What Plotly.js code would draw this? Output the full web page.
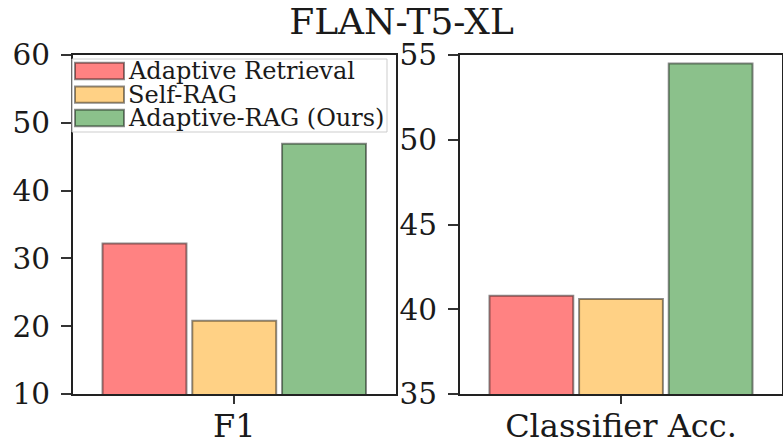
<!DOCTYPE html>
<html>
<head>
<meta charset="utf-8">
<script src="https://cdn.plot.ly/plotly-3.0.1.min.js"></script>
<style>html,body{margin:0;padding:0;background:#fff;}#chart{width:783px;height:444px;}</style>
</head>
<body>
<div id="chart"></div>
<script>
const metrics = ['F1', 'Classifier Acc.'];
const seriesNames = ['Adaptive Retrieval', 'Self-RAG', 'Adaptive-RAG (Ours)'];
const f1Values = [32.2, 20.8, 46.9];
const accValues = [40.8, 40.6, 54.5];
const f1Ticks = [10, 20, 30, 40, 50, 60];
const accTicks = [35, 40, 45, 50, 55];
const seriesColors = ['#FF8282', '#FFD185', '#8BC18B'];
const chartTitle = 'FLAN-T5-XL';

const W = 783, H = 444;
const px = v => v / W;
const py = v => 1 - v / H;
const FONT = 'DejaVu Serif';
const edge = 'rgba(0,0,0,0.45)';

const traces = [];
seriesNames.forEach((name, i) => {
  traces.push({type: 'bar', x: [metrics[0]], y: [f1Values[i]], name: name,
    xaxis: 'x', yaxis: 'y', showlegend: false,
    marker: {color: seriesColors[i], line: {color: edge, width: 2}}, hoverinfo: 'y+name'});
  traces.push({type: 'bar', x: [metrics[1]], y: [accValues[i]], name: name,
    xaxis: 'x2', yaxis: 'y2', showlegend: false,
    marker: {color: seriesColors[i], line: {color: edge, width: 2}}, hoverinfo: 'y+name'});
});

const axisCommon = {
  showline: true, linecolor: '#222', linewidth: 2, mirror: true,
  ticks: 'outside', ticklen: 10, tickwidth: 2, tickcolor: '#333',
  tickfont: {family: FONT, size: 29.5, color: '#1a1a1a'},
  showgrid: false, zeroline: false, fixedrange: true
};
const xTickFont = {family: FONT, size: 32, color: '#1a1a1a'};
const yDomain = [(H - 394) / H, (H - 55) / H];

// custom legend (patches + labels) in the left panel
const legShapes = [];
const legAnn = [];
const legCenters = [71, 94.6, 118];
legShapes.push({type: 'path', xref: 'paper', yref: 'paper',
  path: (function(){
    const x0 = px(72), x1 = px(387), y0 = py(59), y1 = py(132);
    return `M${x0},${y0} L${x1},${y0} L${x1},${y1} L${x0},${y1} Z`;
  })(),
  line: {color: 'rgba(200,200,200,0.9)', width: 1}, fillcolor: 'rgba(255,255,255,0.8)', layer: 'above'});
seriesNames.forEach((name, i) => {
  const c = legCenters[i];
  legShapes.push({type: 'rect', xref: 'paper', yref: 'paper',
    x0: px(75), x1: px(124), y0: py(c - 8.2), y1: py(c + 8.2),
    fillcolor: seriesColors[i], line: {color: edge, width: 2}, layer: 'above'});
  legAnn.push({xref: 'paper', yref: 'paper', x: px(126), y: py(c), xanchor: 'left', yanchor: 'middle',
    text: name, showarrow: false, font: {family: FONT, size: 24, color: '#1a1a1a'}});
});

const layout = {
  width: W, height: H,
  margin: {l: 0, r: 0, t: 0, b: 0, pad: 0},
  paper_bgcolor: '#fff', plot_bgcolor: '#fff',
  barmode: 'group', bargap: 0.165, bargroupgap: 0.065,
  title: {text: chartTitle, font: {family: FONT, size: 36, color: '#1a1a1a'},
    x: px(401.5), xanchor: 'center', xref: 'paper', y: 1 - 21 / H, yanchor: 'middle', yref: 'container'},
  xaxis: Object.assign({}, axisCommon, {domain: [px(73), px(395.5)], anchor: 'y', type: 'category', range: [-0.5, 0.5],
    ticklen: 8, ticklabelstandoff: -5, tickfont: xTickFont}),
  yaxis: Object.assign({}, axisCommon, {domain: yDomain, anchor: 'x', range: [10, 60],
    tickmode: 'array', tickvals: f1Ticks, ticktext: f1Ticks.map(String), ticklabelstandoff: 5}),
  xaxis2: Object.assign({}, axisCommon, {domain: [px(460), px(782)], anchor: 'y2', type: 'category', range: [-0.5, 0.5],
    ticklen: 8, ticklabelstandoff: -5, tickfont: xTickFont}),
  yaxis2: Object.assign({}, axisCommon, {domain: yDomain, anchor: 'x2', range: [35, 55],
    tickmode: 'array', tickvals: accTicks, ticktext: accTicks.map(String), ticklabelstandoff: 5}),
  shapes: legShapes,
  annotations: legAnn,
  showlegend: false
};

Plotly.newPlot('chart', traces, layout, {displayModeBar: false, staticPlot: true});
</script>
</body>
</html>
